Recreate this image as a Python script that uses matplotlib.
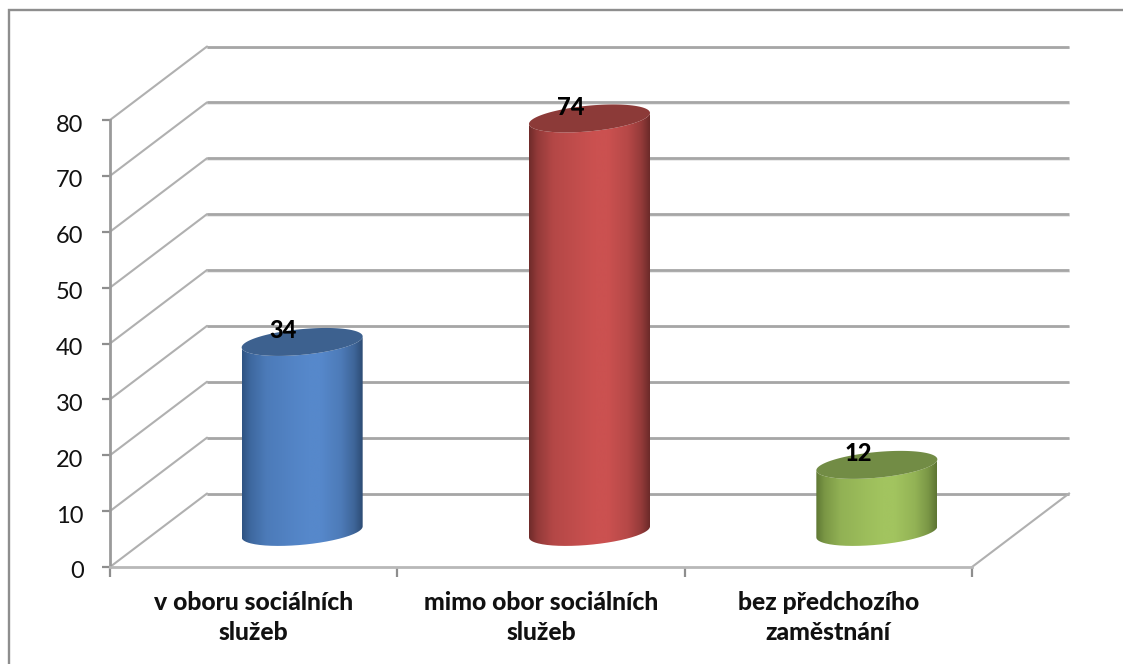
import numpy as np
import matplotlib
matplotlib.use("Agg")
import matplotlib.pyplot as plt
from matplotlib.colors import LinearSegmentedColormap, to_rgb
from matplotlib.lines import Line2D
from matplotlib.patches import PathPatch
from matplotlib.path import Path
from matplotlib.transforms import ScaledTranslation

plt.rcParams["font.family"] = ["Lato", "DejaVu Sans"]

categories = ["v oboru sociálních\nslužeb", "mimo obor sociálních\nslužeb", "bez předchozího\nzaměstnání"]
values = [34, 74, 12]
y_ticks = list(range(0, 90, 10))

# Shading of each cylinder: left edge, centre, right edge, top cap
shades = [
    ("#2e5382", "#5688cb", "#2d4c74", "#3d618f"),
    ("#6f2b2a", "#cb5150", "#6c2a29", "#8c3a38"),
    ("#5f7834", "#a2c45f", "#5d7533", "#728c45"),
]

W, H = 1123, 664
AX_L, AX_R, AX_T, AX_B = 110.0, 972.0, 120.0, 567.0

fig = plt.figure(figsize=(W / 100, H / 100), dpi=100, facecolor="white")
ax = fig.add_axes([AX_L / W, 1 - AX_B / H, (AX_R - AX_L) / W, (AX_B - AX_T) / H])
ax.set_xlim(-0.5, 2.5)
ax.set_ylim(0, 80)
ax.patch.set_visible(False)

# Oblique projection of the chart's depth axis, in data units
px_x = (AX_R - AX_L) / 3
px_y = (AX_B - AX_T) / 80
DEPTH_X = 97 / px_x
DEPTH_Y = 73.5 / px_y

# Chart border: only the top and left edges fall inside the canvas
BORDER = "#8e8e8e"
fig.add_artist(Line2D([9 / W, 9 / W, 1], [0, 1 - 9.5 / H, 1 - 9.5 / H], transform=fig.transFigure,
                      color=BORDER, linewidth=1.7, solid_joinstyle="miter"))

# Walls and floor
GRID = "#a6a6a6"
for v in y_ticks:
    xs = [-0.5, -0.5 + DEPTH_X, 2.5 + DEPTH_X]
    ys = [v, v + DEPTH_Y, v + DEPTH_Y]
    ax.plot(xs[1:], [y - 1.6 / px_y for y in ys[1:]], color="#e6e6e6", lw=1.2, clip_on=False, zorder=1)
    ax.plot(xs[:2], ys[:2], color="#b0b0b0", lw=1.5, clip_on=False, zorder=1, solid_capstyle="round")
    ax.plot(xs[1:], ys[1:], color=GRID, lw=2.0, clip_on=False, zorder=1, solid_capstyle="butt")
ax.plot([2.5, 2.5 + DEPTH_X], [0, DEPTH_Y], color="#b0b0b0", lw=1.5, clip_on=False, zorder=1)

# Axes
for side in ("top", "right"):
    ax.spines[side].set_visible(False)
ax.spines["left"].set_color("#9a9a9a")
ax.spines["left"].set_linewidth(2.0)
ax.spines["bottom"].set_color("#b8b8b8")
ax.spines["bottom"].set_linewidth(2.0)
ax.set_yticks(y_ticks)
ax.tick_params(axis="y", length=6, width=1.6, color=BORDER, labelsize=17, pad=13, labelcolor="#111111")
ax.set_xticks([-0.5, 0.5, 1.5, 2.5])
ax.tick_params(axis="x", which="major", length=7, width=1.6, color=BORDER, labelbottom=False)
ax.set_xticks([0, 1, 2], minor=True)
ax.set_xticklabels(categories, minor=True, fontweight=900, fontsize=17.8, linespacing=1.4, color="#111111")
ax.tick_params(axis="x", which="minor", length=0, pad=17)

# Value-axis labels sit a little below their ticks
label_shift = ScaledTranslation(0, -3 / 100, fig.dpi_scale_trans)
for label in ax.get_yticklabels():
    label.set_transform(label.get_transform() + label_shift)

# Cylinders sit halfway into the depth of the floor
RX = 60.5 / px_x
RY = 14.0 / px_y
PHASE = np.arcsin(5.5 / 14.0)


def ring(cx, cy, t):
    return np.column_stack([cx + RX * np.cos(t), cy + RY * np.sin(t + PHASE)])


def blend(dark, light, amount):
    a, b = np.array(to_rgb(dark)), np.array(to_rgb(light))
    return tuple(a + (b - a) * amount)


for i, (value, shade) in enumerate(zip(values, shades)):
    cx = i + DEPTH_X / 2
    base = DEPTH_Y / 2 - 0.3
    top = base + value

    # Body: the near half of the base ellipse joined to the near half of the top ellipse
    t_low = np.linspace(np.pi, 2 * np.pi, 80)
    body = np.vstack([ring(cx, base, t_low), ring(cx, top, t_low[::-1]), ring(cx, base, t_low[:1])])
    body_patch = PathPatch(Path(body), facecolor="none", edgecolor="none", transform=ax.transData)
    ax.add_patch(body_patch)

    edge_l, mid, edge_r, cap = shade
    cmap = LinearSegmentedColormap.from_list(f"cyl{i}", [
        (0, edge_l), (0.07, blend(edge_l, mid, 0.4)), (0.2, blend(edge_l, mid, 0.75)),
        (0.42, blend(edge_l, mid, 0.92)), (0.55, mid), (0.65, mid),
        (0.82, blend(edge_r, mid, 0.78)), (0.93, blend(edge_r, mid, 0.42)), (1, edge_r),
    ])
    gradient = np.linspace(0, 1, 256).reshape(1, -1)
    img = ax.imshow(gradient, cmap=cmap, aspect="auto", interpolation="bilinear",
                    extent=(cx - RX, cx + RX, base - RY, top + RY), zorder=3)
    img.set_clip_box(fig.bbox)
    img.set_clip_path(body_patch)

    # Top cap
    t_all = np.linspace(0, 2 * np.pi, 160)
    ax.fill(*ring(cx, top, t_all).T, color=cap, zorder=4, clip_on=False, linewidth=0)

    # Value label sits over the upper left of the cap
    ax.annotate(str(value), (cx, top), xytext=(-19 * 0.72, 11 * 0.72), textcoords="offset points",
                ha="center", va="center", fontsize=17, fontweight=900, color="black",
                zorder=5, annotation_clip=False)

ax.set_xlim(-0.5, 2.5)
ax.set_ylim(0, 80)

fig.savefig("out.png", dpi=100, facecolor="white")
